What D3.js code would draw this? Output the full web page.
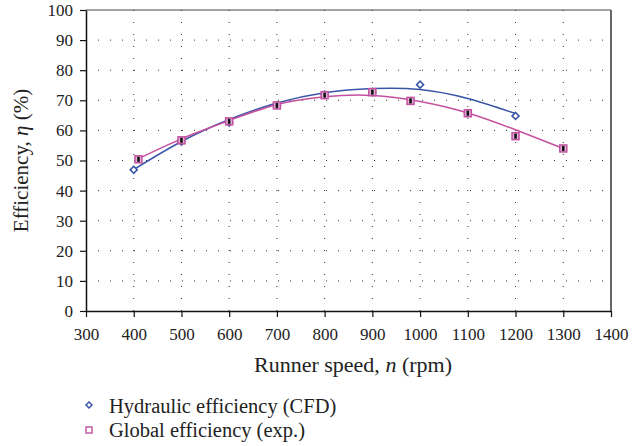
<!DOCTYPE html>
<html>
<head>
<meta charset="utf-8">
<script src="https://cdn.jsdelivr.net/npm/d3@7"></script>
<style>
   body { margin: 0; background: #fff; }
   svg text { font-family: "Liberation Serif", "DejaVu Serif", serif; fill: #222; }
</style>
</head>
<body>
<svg class="eff-chart" width="643" height="446"></svg>
<script>
// markers
const cfdSpeed = [400, 500, 600, 700, 800, 900, 1000, 1200];
const cfdEff = [46.9, 56.3, 62.6, 68.3, 71.9, 72.7, 75.2, 64.8];
const expSpeed = [410, 500, 600, 700, 800, 900, 980, 1100, 1200, 1300];
const expEff = [50.4, 56.7, 63.0, 68.3, 71.7, 72.7, 69.8, 65.7, 58.1, 54.0];

// trend lines
const cfdTrendSpeed = [400, 500, 600, 700, 800, 900, 1000, 1100, 1200];
const cfdTrendEff = [47.0, 56.3, 63.6, 69.1, 72.5, 73.9, 73.6, 70.6, 65.6];
const expTrendSpeed = [410, 500, 600, 700, 800, 900, 1000, 1100, 1200, 1300];
const expTrendEff = [50.6, 57.2, 63.3, 68.6, 71.2, 71.6, 69.6, 65.8, 60.2, 54.0];

const xTicks = [300, 400, 500, 600, 700, 800, 900, 1000, 1100, 1200, 1300, 1400];
const yTicks = [0, 10, 20, 30, 40, 50, 60, 70, 80, 90, 100];
const legendLabels = ["Hydraulic efficiency (CFD)", "Global efficiency (exp.)"];

const blue = "#3a55a8", pink = "#c4509f";
const serif = "'Liberation Serif', 'DejaVu Serif', serif";
const plotLeft = 86, plotRight = 611, plotTop = 10, plotBottom = 311;

const svg = d3.select("svg.eff-chart");

const xScale = d3.scaleLinear().domain([300, 1400]).range([plotLeft, plotRight]);
const yScale = d3.scaleLinear().domain([0, 100]).range([plotBottom, plotTop]);

// dotted grid
svg.append("g")
   .selectAll("line")
   .data(yTicks.filter(d => d > 0 && d < 100))
   .join("line")
   .attr("x1", plotLeft).attr("x2", plotRight)
   .attr("y1", d => yScale(d)).attr("y2", d => yScale(d))
   .attr("stroke", "#333")
   .attr("stroke-width", 1)
   .attr("stroke-dasharray", "1,11");

svg.append("g")
   .selectAll("line")
   .data(xTicks.filter(d => d > 300 && d < 1400))
   .join("line")
   .attr("x1", d => xScale(d)).attr("x2", d => xScale(d))
   .attr("y1", plotBottom).attr("y2", plotTop)
   .attr("stroke", "#333")
   .attr("stroke-width", 1)
   .attr("stroke-dasharray", "1,11");

// frame: thin top, heavier grey right side
svg.append("line")
   .attr("x1", plotLeft).attr("x2", plotRight)
   .attr("y1", plotTop).attr("y2", plotTop)
   .attr("stroke", "#444").attr("stroke-width", 1);
svg.append("line")
   .attr("x1", plotRight).attr("x2", plotRight)
   .attr("y1", plotTop).attr("y2", plotBottom)
   .attr("stroke", "#666").attr("stroke-width", 2);

// axes
const yAxis = svg.append("g")
   .attr("transform", `translate(${plotLeft},0)`)
   .call(d3.axisLeft(yScale).tickValues(yTicks).tickFormat(d3.format("d"))
      .tickSize(6).tickPadding(7).tickSizeOuter(0));
const xAxis = svg.append("g")
   .attr("transform", `translate(0,${plotBottom})`)
   .call(d3.axisBottom(xScale).tickValues(xTicks).tickFormat(d3.format("d"))
      .tickSize(6).tickPadding(11).tickSizeOuter(0));

[xAxis, yAxis].forEach(ax => {
   ax.attr("font-family", serif).attr("font-size", 17);
   ax.select(".domain").attr("stroke", "#111").attr("stroke-width", 1.5);
   ax.selectAll(".tick line").attr("stroke", "#111").attr("stroke-width", 1.2);
   ax.selectAll("text").style("font-family", serif).style("font-size", "17px").attr("fill", "#222");
});

// axis titles
const xTitle = svg.append("text")
   .attr("x", 353).attr("y", 372)
   .attr("text-anchor", "middle")
   .style("font-size", "22px");
xTitle.append("tspan").text("Runner speed, ");
xTitle.append("tspan").style("font-style", "italic").text("n");
xTitle.append("tspan").text(" (rpm)");

const yTitle = svg.append("text")
   .attr("transform", "translate(28,160.5) rotate(-90)")
   .attr("text-anchor", "middle")
   .style("font-size", "21px");
yTitle.append("tspan").text("Efficiency, ");
yTitle.append("tspan").style("font-style", "italic").text("η");
yTitle.append("tspan").text(" (%)");

// trend lines
const line = d3.line()
   .x(d => xScale(d[0]))
   .y(d => yScale(d[1]))
   .curve(d3.curveNatural);

svg.append("path")
   .datum(cfdTrendSpeed.map((s, i) => [s, cfdTrendEff[i]]))
   .attr("d", line)
   .attr("fill", "none")
   .attr("stroke", blue)
   .attr("stroke-width", 1.5);

svg.append("path")
   .datum(expTrendSpeed.map((s, i) => [s, expTrendEff[i]]))
   .attr("d", line)
   .attr("fill", "none")
   .attr("stroke", pink)
   .attr("stroke-width", 1.5);

// CFD diamonds
const diamond = d3.symbol().type(d3.symbolSquare).size(24);
svg.append("g")
   .selectAll("path")
   .data(cfdSpeed.map((s, i) => [s, cfdEff[i]]))
   .join("path")
   .attr("d", diamond)
   .attr("transform", d => `translate(${xScale(d[0])},${yScale(d[1])}) rotate(45)`)
   .attr("fill", "#fff")
   .attr("stroke", blue)
   .attr("stroke-width", 1.6);

// experimental squares
const sq = svg.append("g")
   .selectAll("g")
   .data(expSpeed.map((s, i) => [s, expEff[i]]))
   .join("g")
   .attr("transform", d => `translate(${xScale(d[0])},${yScale(d[1])})`);
sq.append("rect")
   .attr("x", -3.5).attr("y", -3.5)
   .attr("width", 7).attr("height", 7)
   .attr("fill", "#e2b4da")
   .attr("stroke", pink)
   .attr("stroke-width", 1.5);
sq.append("rect")
   .attr("x", -1.3).attr("y", -2.5)
   .attr("width", 2.6).attr("height", 5)
   .attr("fill", "#111");

// legend
const legend = svg.append("g");
legend.append("path")
   .attr("d", d3.symbol().type(d3.symbolSquare).size(18))
   .attr("transform", "translate(89,405) rotate(45)")
   .attr("fill", "#fff")
   .attr("stroke", blue)
   .attr("stroke-width", 1.5);
legend.append("rect")
   .attr("x", 86).attr("y", 427)
   .attr("width", 6).attr("height", 6)
   .attr("fill", "#fff")
   .attr("stroke", pink)
   .attr("stroke-width", 1.4);
legend.selectAll("text")
   .data(legendLabels)
   .join("text")
   .attr("x", 109)
   .attr("y", (d, i) => 413 + i * 24)
   .style("font-size", "20.5px")
   .text(d => d);
</script>
</body>
</html>
